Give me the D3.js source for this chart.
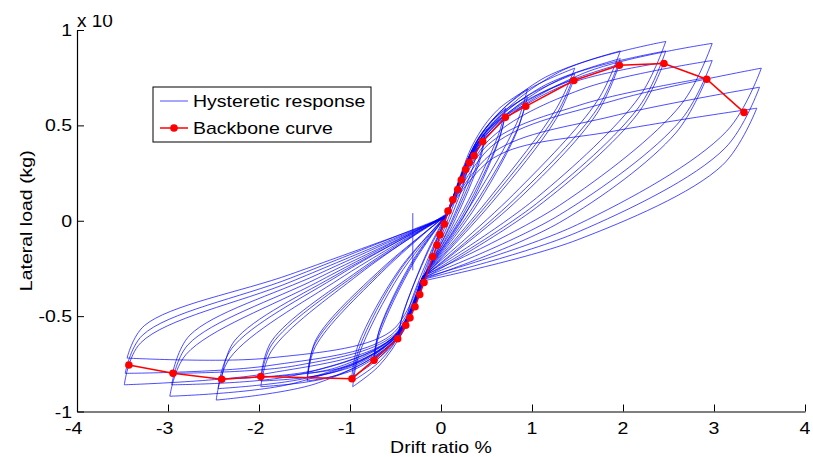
<!DOCTYPE html>
<html><head><meta charset="utf-8">
<script src="https://cdn.jsdelivr.net/npm/d3@7"></script>
<style>body{margin:0;background:#fff}svg{display:block}</style>
</head><body><svg id="c" width="813" height="457"></svg>
<script>
// ---- data ----
const xTicks = [-4,-3,-2,-1,0,1,2,3,4];
const yTicks = [-1,-0.5,0,0.5,1];
const yTickLabels = ["-1","-0.5","0","0.5","1"];
const backboneX = [-3.43,-2.945,-2.41,-1.98,-0.978,-0.736,-0.476,-0.388,-0.341,-0.286,-0.234,-0.187,-0.091,-0.044,-0.011,0.036,0.077,0.13,0.184,0.223,0.271,0.311,0.363,0.458,0.707,0.931,1.46,1.96,2.45,2.92,3.33];
const backboneY = [-0.756,-0.80,-0.831,-0.817,-0.828,-0.731,-0.619,-0.548,-0.509,-0.451,-0.387,-0.324,-0.189,-0.128,-0.073,-0.017,0.051,0.11,0.164,0.214,0.269,0.306,0.341,0.415,0.542,0.600,0.735,0.815,0.824,0.742,0.568];
// hysteretic loops: key points [drift %, load x1e4]
// order: pinch+, knee+, mid+, tip+, drop+, mid-unload+, pinch-, knee-, mid-, tip-, drop-, mid-reload-
const loops = [
 [[0.04,0.00],[0.10,0.08],[0.15,0.15],[0.20,0.20],[0.17,0.13],[0.02,-0.06],[-0.12,-0.22],[-0.15,-0.26],[-0.17,-0.30],[-0.19,-0.33],[-0.16,-0.26],[-0.05,-0.11]],
 [[0.04,0.00],[0.14,0.12],[0.22,0.22],[0.30,0.30],[0.26,0.21],[0.05,-0.05],[-0.13,-0.24],[-0.19,-0.32],[-0.24,-0.39],[-0.29,-0.45],[-0.25,-0.36],[-0.08,-0.14]],
 [[0.05,0.01],[0.18,0.16],[0.30,0.30],[0.40,0.38],[0.35,0.28],[0.08,-0.04],[-0.14,-0.25],[-0.23,-0.37],[-0.32,-0.48],[-0.39,-0.55],[-0.34,-0.44],[-0.10,-0.15]],
 [[0.05,0.02],[0.20,0.19],[0.36,0.36],[0.48,0.45],[0.43,0.34],[0.12,-0.01],[-0.15,-0.26],[-0.27,-0.42],[-0.39,-0.56],[-0.48,-0.63],[-0.43,-0.51],[-0.14,-0.15]],
 [[0.06,0.02],[0.20,0.18],[0.36,0.34],[0.48,0.43],[0.43,0.32],[0.12,-0.03],[-0.16,-0.27],[-0.27,-0.41],[-0.39,-0.54],[-0.47,-0.61],[-0.42,-0.49],[-0.14,-0.16]],
 [[0.08,0.04],[0.30,0.33],[0.50,0.49],[0.71,0.59],[0.63,0.45],[0.25,0.06],[-0.17,-0.27],[-0.35,-0.50],[-0.55,-0.66],[-0.74,-0.74],[-0.68,-0.60],[-0.30,-0.22]],
 [[0.08,0.04],[0.30,0.32],[0.50,0.47],[0.71,0.56],[0.63,0.42],[0.25,0.04],[-0.18,-0.28],[-0.35,-0.50],[-0.55,-0.65],[-0.74,-0.72],[-0.68,-0.58],[-0.30,-0.21]],
 [[0.07,0.03],[0.30,0.31],[0.50,0.45],[0.70,0.54],[0.62,0.40],[0.25,0.02],[-0.18,-0.28],[-0.35,-0.49],[-0.55,-0.63],[-0.73,-0.70],[-0.67,-0.56],[-0.30,-0.20]],
 [[0.08,0.04],[0.35,0.40],[0.62,0.58],[0.95,0.69],[0.83,0.51],[0.35,0.10],[-0.18,-0.28],[-0.42,-0.58],[-0.68,-0.76],[-0.97,-0.87],[-0.90,-0.70],[-0.45,-0.28]],
 [[0.08,0.04],[0.35,0.38],[0.62,0.55],[0.95,0.65],[0.83,0.47],[0.35,0.07],[-0.19,-0.29],[-0.42,-0.57],[-0.68,-0.74],[-0.97,-0.84],[-0.90,-0.67],[-0.45,-0.26]],
 [[0.07,0.03],[0.35,0.37],[0.62,0.52],[0.93,0.61],[0.81,0.44],[0.35,0.05],[-0.19,-0.29],[-0.42,-0.56],[-0.68,-0.72],[-0.98,-0.82],[-0.91,-0.65],[-0.45,-0.25]],
 [[0.08,0.04],[0.42,0.44],[0.90,0.67],[1.47,0.80],[1.27,0.59],[0.55,0.13],[-0.19,-0.29],[-0.46,-0.60],[-0.95,-0.78],[-1.47,-0.84],[-1.38,-0.66],[-0.65,-0.27]],
 [[0.08,0.04],[0.42,0.43],[0.90,0.64],[1.47,0.77],[1.27,0.56],[0.55,0.11],[-0.20,-0.30],[-0.46,-0.59],[-0.95,-0.76],[-1.47,-0.82],[-1.38,-0.64],[-0.65,-0.26]],
 [[0.07,0.03],[0.42,0.42],[0.90,0.62],[1.46,0.74],[1.26,0.53],[0.55,0.09],[-0.20,-0.30],[-0.46,-0.58],[-0.95,-0.75],[-1.46,-0.80],[-1.37,-0.62],[-0.65,-0.25]],
 [[0.07,0.04],[0.45,0.46],[1.10,0.74],[1.97,0.89],[1.72,0.63],[0.80,0.14],[-0.20,-0.29],[-0.48,-0.61],[-1.15,-0.81],[-1.98,-0.87],[-1.86,-0.68],[-0.90,-0.28]],
 [[0.07,0.03],[0.45,0.44],[1.10,0.70],[1.97,0.85],[1.72,0.59],[0.80,0.11],[-0.21,-0.30],[-0.48,-0.60],[-1.15,-0.79],[-1.98,-0.84],[-1.86,-0.65],[-0.90,-0.27]],
 [[0.06,0.03],[0.45,0.43],[1.10,0.67],[1.96,0.82],[1.71,0.56],[0.80,0.09],[-0.21,-0.30],[-0.48,-0.59],[-1.15,-0.77],[-1.98,-0.82],[-1.86,-0.63],[-0.90,-0.26]],
 [[0.07,0.03],[0.48,0.46],[1.30,0.78],[2.47,0.94],[2.18,0.65],[1.05,0.12],[-0.20,-0.29],[-0.50,-0.62],[-1.35,-0.85],[-2.47,-0.94],[-2.32,-0.72],[-1.10,-0.30]],
 [[0.06,0.03],[0.48,0.44],[1.30,0.74],[2.47,0.89],[2.18,0.60],[1.05,0.09],[-0.21,-0.30],[-0.50,-0.61],[-1.35,-0.81],[-2.45,-0.88],[-2.30,-0.67],[-1.10,-0.28]],
 [[0.06,0.02],[0.48,0.43],[1.30,0.70],[2.45,0.83],[2.16,0.56],[1.05,0.07],[-0.22,-0.31],[-0.50,-0.60],[-1.35,-0.78],[-2.41,-0.83],[-2.27,-0.63],[-1.10,-0.27]],
 [[0.06,0.03],[0.52,0.45],[1.55,0.77],[2.98,0.93],[2.64,0.61],[1.30,0.08],[-0.20,-0.29],[-0.52,-0.62],[-1.60,-0.85],[-2.98,-0.92],[-2.80,-0.70],[-1.35,-0.32]],
 [[0.05,0.02],[0.52,0.42],[1.55,0.69],[2.98,0.84],[2.64,0.53],[1.30,0.03],[-0.21,-0.30],[-0.52,-0.61],[-1.60,-0.81],[-2.96,-0.86],[-2.78,-0.65],[-1.35,-0.30]],
 [[0.05,0.02],[0.52,0.40],[1.55,0.61],[2.92,0.75],[2.58,0.46],[1.30,-0.01],[-0.22,-0.31],[-0.52,-0.60],[-1.60,-0.76],[-2.95,-0.80],[-2.76,-0.60],[-1.35,-0.28]],
 [[0.05,0.02],[0.58,0.40],[1.90,0.63],[3.52,0.80],[3.14,0.47],[1.50,-0.02],[-0.20,-0.30],[-0.55,-0.62],[-1.90,-0.80],[-3.48,-0.86],[-3.30,-0.64],[-1.65,-0.32]],
 [[0.04,0.02],[0.58,0.36],[1.90,0.55],[3.50,0.70],[3.12,0.38],[1.50,-0.06],[-0.22,-0.31],[-0.55,-0.60],[-1.90,-0.76],[-3.47,-0.80],[-3.28,-0.60],[-1.65,-0.30]],
 [[0.03,0.01],[0.58,0.33],[1.90,0.47],[3.47,0.59],[3.09,0.29],[1.50,-0.10],[-0.24,-0.32],[-0.55,-0.58],[-1.90,-0.72],[-3.45,-0.72],[-3.26,-0.55],[-1.65,-0.28]]
];
const glitchX = [-0.31,-0.31];
const glitchY = [0.04,-0.26];

// ---- layout ----
const W = 813, H = 457;
const svg = d3.select("#c");
const x = d3.scaleLinear().domain([-4,4]).range([77,805]);
const y = d3.scaleLinear().domain([-1,1]).range([411.5,30]);
const FONT = "'Liberation Sans', Arial, sans-serif";
const SX = 1.22;
const BLUE = "#0000ff";

// hysteresis: each loop drawn as four open branches meeting at the tips
const seg = d3.line().x(d=>x(d[0])).y(d=>y(d[1])).curve(d3.curveCatmullRom.alpha(0.5));
const branches = [];
loops.forEach(L=>{
  branches.push([L[0],L[1],L[2],L[3]]);
  branches.push([L[3],L[4],L[5],L[6]]);
  branches.push([L[6],L[7],L[8],L[9]]);
  branches.push([L[9],L[10],L[11],L[0]]);
});
const gH = svg.append("g");
gH.selectAll("path.br").data(branches).join("path")
  .attr("class","br").attr("d",seg)
  .attr("fill","none").attr("stroke",BLUE).attr("stroke-width",0.7);
gH.append("path").attr("d", d3.line().x((d,i)=>x(glitchX[i])).y((d,i)=>y(glitchY[i]))(glitchX))
  .attr("fill","none").attr("stroke",BLUE).attr("stroke-width",0.7);

// backbone
const bb = backboneX.map((v,i)=>[v,backboneY[i]]);
svg.append("path").attr("d", d3.line().x(d=>x(d[0])).y(d=>y(d[1]))(bb))
  .attr("fill","none").attr("stroke","#ff0000").attr("stroke-width",1.5);
svg.selectAll("circle.bb").data(bb).join("circle").attr("class","bb")
  .attr("cx",d=>x(d[0])).attr("cy",d=>y(d[1])).attr("r",3.8).attr("fill","#ff0000");

// axes
const gx = svg.append("g").attr("transform",`translate(0,${y(-1)})`)
  .call(d3.axisBottom(x).tickValues(xTicks).tickSize(-7).tickSizeOuter(0).tickFormat(""));
const gy = svg.append("g").attr("transform",`translate(${x(-4)},0)`)
  .call(d3.axisLeft(y).tickValues(yTicks).tickSize(-7).tickSizeOuter(0).tickFormat(""));
[gx,gy].forEach(g=>{g.select(".domain").attr("stroke","#000").attr("stroke-width",1.2);
  g.selectAll(".tick line").attr("stroke","#000").attr("stroke-width",1);});

function stext(parent, txt, tx, ty, anchor, rot, size, sx){
  const g = parent.append("g").attr("transform",`translate(${tx},${ty})${rot?` rotate(${rot})`:""} scale(${sx||SX},1)`);
  return g.append("text").text(txt).attr("font-family",FONT).attr("font-size",size||16)
    .attr("text-anchor",anchor).attr("fill","#000");
}
// x tick labels: digits centred on tick, minus sign hanging left
xTicks.forEach(v=>{
  const t = stext(svg, String(Math.abs(v)), x(v), 434, "middle");
  if(v<0){
    const w = t.node().getComputedTextLength()*SX;
    stext(svg, "-", x(v)-w/2, 434, "end");
  }
});
yTicks.forEach((v,i)=>{ stext(svg, yTickLabels[i], 72, y(v)+6, "end"); });
stext(svg, "Drift ratio %", x(0), 453, "middle");
stext(svg, "Lateral load (kg)", 32, y(0), "middle", -90);
// exponent label, top clipped as in the source
svg.append("clipPath").attr("id","clipTop").append("rect").attr("x",0).attr("y",15).attr("width",W).attr("height",H);
const gExp = svg.append("g").attr("clip-path","url(#clipTop)");
stext(gExp, "x 10", 77, 27, "start", 0, 19, 1.0);

// legend
const lg = svg.append("g");
lg.append("rect").attr("x",153).attr("y",87).attr("width",218).attr("height",55)
  .attr("fill","#fff").attr("stroke","#000").attr("stroke-width",1);
lg.append("line").attr("x1",160).attr("x2",188).attr("y1",101).attr("y2",101).attr("stroke",BLUE).attr("stroke-width",0.7);
lg.append("line").attr("x1",160).attr("x2",188).attr("y1",128).attr("y2",128).attr("stroke","#ff0000").attr("stroke-width",1.5);
lg.append("circle").attr("cx",174).attr("cy",128).attr("r",3.8).attr("fill","#ff0000");
stext(lg, "Hysteretic response", 193, 107, "start");
stext(lg, "Backbone curve", 193, 134, "start");
</script></body></html>
